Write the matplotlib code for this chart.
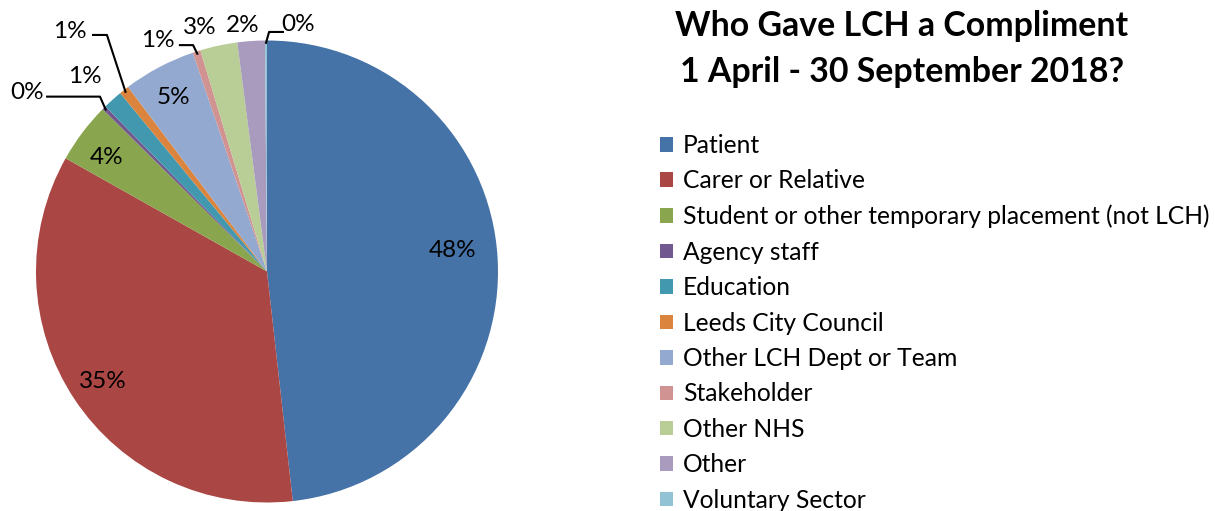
import matplotlib.pyplot as plt
import numpy as np

plt.rcParams['font.family'] = ['Lato', 'DejaVu Sans']

# data (counts)
categories = ["Patient", "Carer or Relative", "Student or other temporary placement (not LCH)",
              "Agency staff", "Education", "Leeds City Council", "Other LCH Dept or Team",
              "Stakeholder", "Other NHS", "Other", "Voluntary Sector"]
counts = [352, 255, 31, 2, 10, 5, 37, 4, 19, 14, 1]
colors = ["#4572A7", "#AA4643", "#89A54E", "#71588F", "#4198AF", "#DB843D",
          "#93A9CF", "#D19392", "#B9CD96", "#A99BBD", "#91C3D5"]

# where each % label sits (pie data coords, radius 1)
label_xy = [(0.805, 0.093), (-0.710, -0.478), (-0.696, 0.494), (-1.039, 0.777),
            (-0.788, 0.842), (-0.853, 1.037), (-0.403, 0.753), (-0.472, 1.002),
            (-0.29, 1.058), (-0.104, 1.067), (0.134, 1.071)]
# leader lines: start (near text), elbow -> rim
leaders = {3: [(-0.952, 0.757), (-0.723, 0.757)],
           5: [(-0.753, 1.024), (-0.693, 1.024)],
           7: [(-0.377, 0.98), (-0.32, 0.98)],
           10: [(0.069, 1.037), (0.009, 1.037)]}

fig = plt.figure(figsize=(12.15, 5.11), dpi=100)
cx, cy, r = 267, 271.5, 231
ax = fig.add_axes([(cx - r) / 1215, (511 - cy - r) / 511, 2 * r / 1215, 2 * r / 511])

wedges, _ = ax.pie(counts, colors=colors, startangle=90, counterclock=False,
                   radius=1, wedgeprops=dict(linewidth=0), frame=True)
ax.set_xlim(-1, 1)
ax.set_ylim(-1, 1)
ax.set_aspect('equal')
ax.axis('off')

total = sum(counts)
for i, w in enumerate(wedges):
    pct = "%d%%" % round(100 * counts[i] / total)
    tx, ty = label_xy[i]
    ax.text(tx, ty, pct, ha='center', va='center', fontsize=17.5, clip_on=False)
    if i in leaders:
        mid = np.deg2rad((w.theta1 + w.theta2) / 2)
        rim = (0.99 * np.cos(mid), 0.99 * np.sin(mid))
        pts = leaders[i] + [rim]
        ax.plot([p[0] for p in pts], [p[1] for p in pts], color='black', lw=1.5, clip_on=False)

fig.text(902 / 1215, 1 - 26 / 511, "Who Gave LCH a Compliment", ha='center', va='center',
         fontsize=24.4, fontweight='bold')
fig.text(902 / 1215, 1 - 72 / 511, "1 April - 30 September 2018?", ha='center', va='center',
         fontsize=24.4, fontweight='bold')

# last entry runs off the bottom edge, as in the original
fig.legend(wedges, categories, loc='upper left', bbox_to_anchor=(660 / 1215, 1 - 134 / 511),
           frameon=False, fontsize=17.7, handlelength=0.53, handleheight=0.53,
           handletextpad=0.4, labelspacing=0.505, borderaxespad=0, borderpad=0)

fig.savefig("out.png", dpi=100)
